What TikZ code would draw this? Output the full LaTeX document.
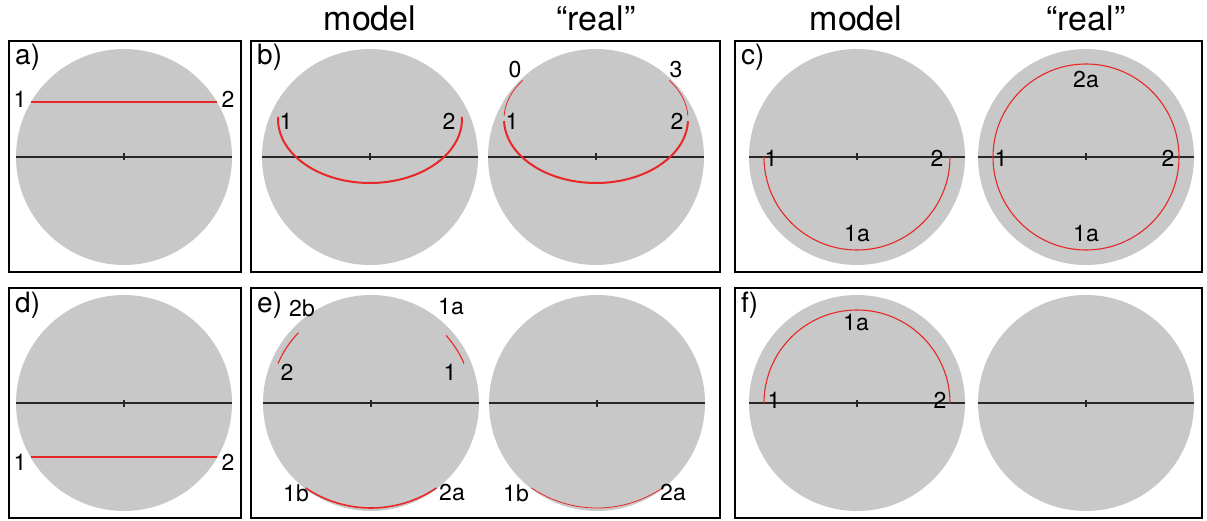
\documentclass[tikz,border=0pt]{standalone}
\usepackage{fontspec}
\setmainfont{TeX Gyre Heros}
\definecolor{spherec}{RGB}{200,200,200}
\definecolor{redl}{RGB}{232,40,40}
\definecolor{axisc}{RGB}{40,40,40}
\newcommand\spherewithaxis[3]{%
  \fill[spherec] (#2,#3) circle (108);
  \draw[axisline] (#2-108,#3) -- (#2+108,#3);
  \draw[axisline] (#2,#3-3.5) -- (#2,#3+3.5);
  \coordinate (#1) at (#2,#3);}
\begin{document}
\begin{tikzpicture}[x=1pt,y=1pt,
  panel/.style={draw=black, line width=2pt},
  axisline/.style={draw=axisc, line width=1.4pt},
  lbl/.style={font=\fontsize{23}{23}\selectfont, inner sep=0pt},
  plbl/.style={font=\fontsize{28}{28}\selectfont, inner sep=0pt, anchor=north west},
  hdr/.style={font=\fontsize{34}{34}\selectfont, inner sep=0pt},
  redthick/.style={draw=redl, line width=2pt},
  redmid/.style={draw=redl, line width=1.6pt},
  redthin/.style={draw=redl, line width=1.1pt},
  redfaint/.style={draw=redl, line width=0.8pt}]
\useasboundingbox (0,0) rectangle (1207,520);
% headers
\node[hdr] (h1) at (370,502) {model};
\node[hdr] (h2) at (596,502) {“real”};
\node[hdr] (h3) at (856,502) {model};
\node[hdr] (h4) at (1086,502) {“real”};
% panels
\draw[panel] (9,248) rectangle (241,479);
\draw[panel] (251,248) rectangle (720,479);
\draw[panel] (735,248) rectangle (1202,479);
\draw[panel] (9,2) rectangle (241,232);
\draw[panel] (251,2) rectangle (720,232);
\draw[panel] (735,2) rectangle (1202,232);
% spheres
\spherewithaxis{sa}{124}{363}
\spherewithaxis{sbm}{370}{363}
\spherewithaxis{sbr}{596}{363}
\spherewithaxis{scm}{857}{363}
\spherewithaxis{scr}{1086}{363}
\spherewithaxis{sd}{124}{117}
\spherewithaxis{sem}{371}{117}
\spherewithaxis{ser}{597}{117}
\spherewithaxis{sfm}{857}{117}
\spherewithaxis{sfr}{1086}{117}
% panel labels
\node[plbl] (pa) at (15,476) {a)};
\node[plbl] (pb) at (257,476) {b)};
\node[plbl] (pc) at (741,476) {c)};
\node[plbl] (pd) at (15,228) {d)};
\node[plbl] (pe) at (257,228) {e)};
\node[plbl] (pf) at (741,228) {f)};
% a
\draw[redthick] (31,418) -- (217,418);
\node[lbl] (a1) at (20,421) {1};
\node[lbl] (a2) at (228,421) {2};
% b model
\draw[redthick] ([shift={(178:92 and 64)}]370,401) arc[start angle=178, end angle=362, x radius=92, y radius=64];
\node[lbl] (bm1) at (286,399) {1};
\node[lbl] (bm2) at (449,399) {2};
% b real
\draw[redthick] ([shift={(182:92 and 64)}]596,401) arc[start angle=182, end angle=358, x radius=92, y radius=64];
\draw[redfaint] ([shift={(143:92 and 64)}]596,401) arc[start angle=143, end angle=177, x radius=92, y radius=64];
\draw[redfaint] ([shift={(3:92 and 64)}]596,401) arc[start angle=3, end angle=37, x radius=92, y radius=64];
\node[lbl] (br0) at (515,450) {0};
\node[lbl] (br3) at (676,450) {3};
\node[lbl] (br1) at (512,399) {1};
\node[lbl] (br2) at (677,399) {2};
% c model
\draw[redthin] ([shift={(180:93)}]857,363) arc[start angle=180, end angle=360, radius=93];
\node[lbl] (cm1) at (771,362) {1};
\node[lbl] (cm2) at (937,362) {2};
\node[lbl] (cm1a) at (857,286) {1a};
% c real
\draw[redthin] (1086,363) circle (93);
\node[lbl] (cr1) at (1001,362) {1};
\node[lbl] (cr2) at (1168,362) {2};
\node[lbl] (cr2a) at (1086,440) {2a};
\node[lbl] (cr1a) at (1086,286) {1a};
% d
\draw[redthick] (31,63) -- (217,63);
\node[lbl] (d1) at (20,58) {1};
\node[lbl] (d2) at (228,58) {2};
% e model
\draw[redthin] ([shift={(157:101)}]371,117) arc[start angle=157, end angle=136, radius=101];
\draw[redthin] ([shift={(23:101)}]371,117) arc[start angle=23, end angle=42, radius=101];
\draw[redmid] ([shift={(236:117)}]371,129) arc[start angle=236, end angle=304, radius=117];
\node[lbl] (em2b) at (302,212) {2b};
\node[lbl] (em1a) at (451,213) {1a};
\node[lbl] (em2) at (287,148) {2};
\node[lbl] (em1) at (450,148) {1};
\node[lbl] (em1b) at (296,27) {1b};
\node[lbl] (em2a) at (452,27) {2a};
% e real
\draw[redfaint] ([shift={(236:117)}]597,129) arc[start angle=236, end angle=304, radius=117];
\node[lbl] (er1b) at (516,27) {1b};
\node[lbl] (er2a) at (673,27) {2a};
% f model
\draw[redthin] ([shift={(0:93)}]857,117) arc[start angle=0, end angle=180, radius=93];
\node[lbl] (fm1a) at (856,197) {1a};
\node[lbl] (fm1) at (774,120) {1};
\node[lbl] (fm2) at (940,120) {2};
\end{tikzpicture}
\end{document}
